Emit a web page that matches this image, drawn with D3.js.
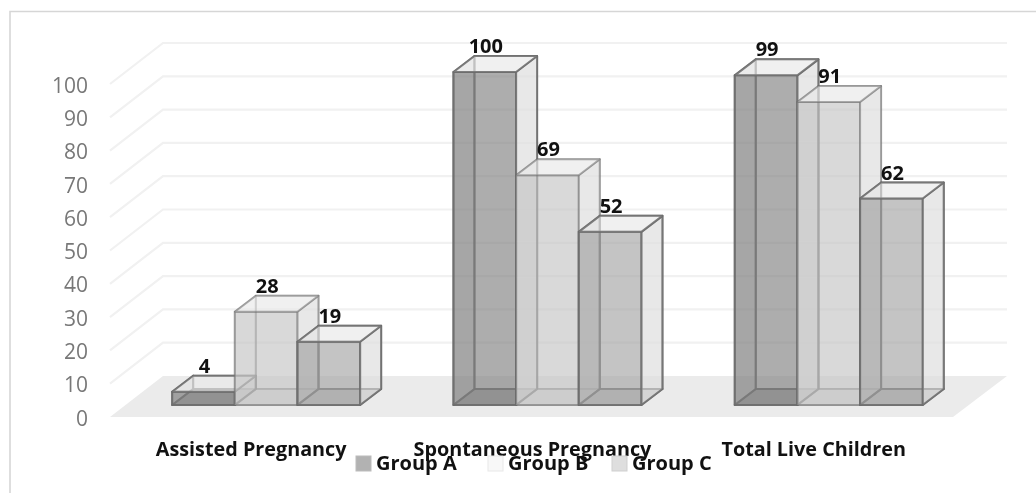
<!DOCTYPE html>
<html><head><meta charset="utf-8">
<script src="https://cdn.jsdelivr.net/npm/d3@7"></script>
<style>html,body{margin:0;background:#fff}svg{display:block}</style></head>
<body><svg id="c" width="1036" height="493"></svg>
<script>
const categories=["Assisted Pregnancy","Spontaneous Pregnancy","Total Live Children"];
const seriesNames=["Group A","Group B","Group C"];
const groupA=[4,100,99];
const groupB=[28,69,91];
const groupC=[19,52,62];
const yTicks=[0,10,20,30,40,50,60,70,80,90,100];
const frontFills=["#808080","#c6c6c6","#a4a4a4"];
const legendFills=["#b2b2b2","#f8f8f8","#dedede"];
const legendStrokes=["#bcbcbc","#e8e8e8","#cfcfcf"];
const font="'Open Sans',sans-serif";
const root=d3.select("#c");
const svg=root.append("g").style("filter","blur(0.45px)");
svg.append("path").attr("fill","none").attr("stroke","#d6d6d6").attr("stroke-width",1.6)
 .attr("d",d3.line()([[1040,11.5],[10,11.5],[10,500]]));

const y=d3.scaleLinear().domain([0,100]).range([417,84]);
const barBase=405, floorDepth={dx:53,dy:-41}, depth={dx:21,dy:-16};
const yBar=v=>barBase-(y(0)-y(v));
const x0=d3.scaleBand().domain(categories).range([125.5,969.4]);
const x1=d3.scaleBand().domain(seriesNames).range([0,188]);
const seriesVals=[groupA,groupB,groupC];
const bx=(c,s)=>x0(categories[c])+x0.bandwidth()/2-94+x1(seriesNames[s]);
const line=d3.line();

// floor
svg.append("path").attr("fill","#ebebeb")
 .attr("d",line([[110,y(0)],[110+floorDepth.dx,y(0)+floorDepth.dy],[1007,y(0)+floorDepth.dy],[953,y(0)]])+"Z");
// gridlines
svg.append("g").selectAll("path").data(yTicks.slice(1)).join("path")
 .attr("fill","none").attr("stroke","#f1f1f1").attr("stroke-width",2.2)
 .attr("d",t=>line([[110,y(t)],[110+floorDepth.dx,y(t)+floorDepth.dy],[1007,y(t)+floorDepth.dy]]));
// y labels
svg.append("g").selectAll("text").data(yTicks).join("text")
 .attr("x",88).attr("y",t=>y(t)+3).attr("text-anchor","end").attr("dominant-baseline","middle")
 .attr("font-family",font).attr("font-size",21).attr("fill","#787878").text(d=>d);

// bars
const w=x1.bandwidth();
categories.forEach((cat,c)=>{
 seriesNames.forEach((sn,s)=>{
  const v=seriesVals[s][c],x=bx(c,s),t=yBar(v),b=barBase,dx=depth.dx,dy=depth.dy;
  const col=frontFills[s];
  const g=svg.append("g").attr("stroke","#6c6c6c").attr("stroke-opacity",s===1?0.45:0.8).attr("stroke-width",2).attr("stroke-linejoin","round");
  const face=(pts,fill,op)=>g.append("path").attr("d",line(pts)+"Z").attr("fill",fill).attr("fill-opacity",op);
  face([[x+dx,t+dy],[x+w+dx,t+dy],[x+w+dx,b+dy],[x+dx,b+dy]],"#c8c8c8",0.16);
  face([[x,b],[x+dx,b+dy],[x+w+dx,b+dy],[x+w,b]],col,0.55);
  face([[x,t],[x+dx,t+dy],[x+dx,b+dy],[x,b]],col,0.2);
  face([[x,t],[x+w,t],[x+w,b],[x,b]],col,0.62);
  face([[x+w,t],[x+w+dx,t+dy],[x+w+dx,b+dy],[x+w,b]],"#e0e0e0",0.6);
  face([[x,t],[x+dx,t+dy],[x+w+dx,t+dy],[x+w,t]],"#ececec",0.65);
 });
});
// value labels
categories.forEach((cat,c)=>seriesNames.forEach((sn,s)=>{
 const v=seriesVals[s][c];
 svg.append("text").attr("x",bx(c,s)+w/2+1).attr("y",yBar(v)+depth.dy-3)
  .attr("text-anchor","middle").attr("font-family",font).attr("font-weight",700).attr("font-size",20)
  .attr("fill","#111").text(v);
}));
// category labels
svg.append("g").selectAll("text").data(categories).join("text")
 .attr("x",d=>x0(d)+x0.bandwidth()/2-15).attr("y",456).attr("text-anchor","middle")
 .attr("font-family",font).attr("font-weight",700).attr("font-size",19.8).attr("fill","#111").text(d=>d);
// legend
const legX=[356,488,612];
seriesNames.forEach((n,i)=>{
 svg.append("rect").attr("x",legX[i]).attr("y",456).attr("width",15).attr("height",15).attr("fill",legendFills[i]).attr("stroke",legendStrokes[i]);
 svg.append("text").attr("x",legX[i]+20).attr("y",470).attr("font-family",font).attr("font-weight",700).attr("font-size",20).attr("fill","#111").text(n);
});
</script></body></html>
